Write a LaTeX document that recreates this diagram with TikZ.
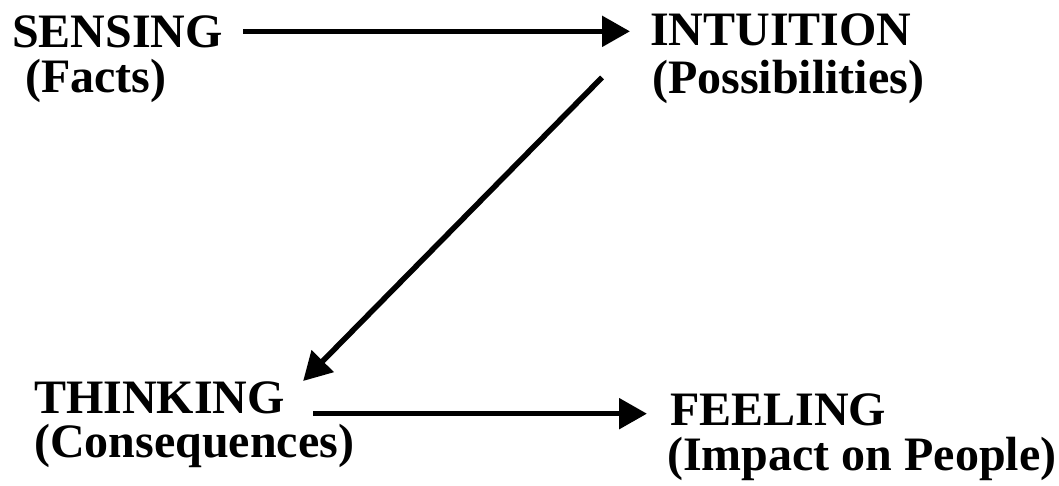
\documentclass[tikz,border=0pt]{standalone}
\usepackage{fontspec}
\setmainfont{Liberation Serif}
\usepackage{tikz}
\usetikzlibrary{arrows.meta, positioning}

\begin{document}
\begin{tikzpicture}[
  x=1pt, y=-1pt,
  ttl/.style={anchor=base west, inner sep=0pt, font=\fontsize{48}{54}\selectfont\bfseries},
  sub/.style={ttl},
  arr/.style={-{Triangle[length=28pt, width=30pt]}, line width=5.5pt, black}
]
  \useasboundingbox (0,0) rectangle (1059,485);
  \node[ttl] (sensing) at (12,47) {SENSING};
  \node[sub] (facts) at (25,92) {(Facts)};
  \node[ttl] (intuition) at (650,45) {INTUITION};
  \node[sub] (possib) at (652,93) {(Possibilities)};
  \node[ttl] (thinking) at (34,413) {THINKING};
  \node[sub] (conseq) at (34,457) {(Consequences)};
  \node[ttl] (feeling) at (670,425) {FEELING};
  \node[sub] (impact) at (667,470) {(Impact on People)};
  \draw[arr, shorten <=20pt] (sensing.east) -- ([xshift=-20pt]intuition.west |- sensing.east);
  \draw[arr] ([xshift=-50pt, yshift=4pt]possib.west) -- ([xshift=18pt]thinking.north east);
  \draw[arr, shorten <=28pt] (thinking.south east) -- ([xshift=-23pt]feeling.west |- thinking.south east);
\end{tikzpicture}
\end{document}
